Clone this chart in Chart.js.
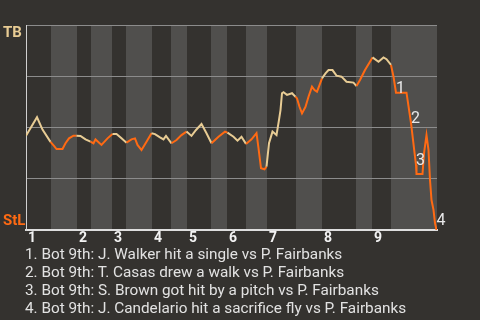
<!DOCTYPE html>
<html>
<head>
<meta charset="utf-8">
<title>Win probability</title>
<script src="https://cdn.jsdelivr.net/npm/chart.js"></script>
<style>
body{margin:0;background:#34322f;width:480px;height:320px;overflow:hidden;font-family:Roboto,sans-serif;}
#wrap{position:absolute;left:0;top:0;width:480px;height:248px;}
#events{position:absolute;left:25px;top:245px;margin:0;padding:0;list-style:none;color:#e2e2e2;font-size:15.3px;line-height:18px;white-space:nowrap;}
</style>
</head>
<body>
<div id="wrap"><canvas id="chart" width="480" height="248"></canvas></div>
<ul id="events"></ul>
<script>
// play number (x) and TB win probability in % (y)
let plays = [0,2.2,3.3,4.9,5.6,6.1,7.3,7.9,8.6,9.5,10.1,10.9,11.9,12.9,13.5,13.9,15.1,16.3,17.3,18.1,
19.1,20.1,21.1,21.8,22.3,23.1,24.1,25.1,25.8,26.8,27.5,28.0,29.1,30.1,31.1,32.1,33.1,34.0,35.1,36.1,
37.1,38.5,39.8,40.3,41.5,42.3,43.1,44.0,45.1,46.1,46.5,47.0,47.7,48.1,48.6,49.3,50.1,50.6,50.9,51.2,
51.5,52.2,53.2,53.9,54.2,54.7,55.2,55.9,56.5,57.2,57.7,58.2,58.7,59.2,59.9,60.5,61.3,62.1,63.1,64.1,
65.5,66.1,66.8,67.8,68.8,69.3,70.5,71.5,72.1,73.0,73.5,74.0,76.1,77.0,78.0,78.1,79.3,79.6,80.1,80.5,
80.8,81.1,81.5,81.8,82.1];
let tbWin = [46,55,49,43,41,39.5,39.5,42.3,44.7,46,46,45.9,44.2,43.1,42.3,44.2,41.5,44.7,46.8,46.8,
44.7,42.6,44.2,44.7,41.5,39,43.1,47.2,46.8,45.2,44.2,45.9,42.3,43.9,46.3,48,45.9,48.8,51.7,47.2,
42.3,45.5,48,47.5,45.5,43.6,45.5,42,44.2,47.2,39.9,30.1,29.6,30.9,42.3,48,46.3,53.7,58.5,66.7,
67.2,65.9,66.7,65,64.2,60.1,56.9,60.1,65,69.9,68.3,67.5,70.7,74,76.4,78,78,75.3,74.8,72.3,
71.9,70.2,73.2,78,82.1,84.2,82.1,84.2,83.3,80.5,74.8,67,67,52.2,31.7,27.3,27.3,37.4,46.3,39,
24.4,14.6,9.8,3.4,0];

// first play of each half inning (top, bottom, top, ...)
let halfStarts = [0,5,10.2,13,17.2,20,25.2,29,32.2,37,40.2,44,48.2,54,59.2,66,69.2,73];
let lastPlay = 82.2;
let innings = ["1","2","3","4","5","6","7","8","9"];
let teams = ["TB","StL"];

let eventPlays = [74.0,77.0,78.0,82.1];
let eventText = [
"1. Bot 9th: J. Walker hit a single vs P. Fairbanks",
"2. Bot 9th: T. Casas drew a walk vs P. Fairbanks",
"3. Bot 9th: S. Brown got hit by a pitch vs P. Fairbanks",
"4. Bot 9th: J. Candelario hit a sacrifice fly vs P. Fairbanks"
];

let tanColor = "#e8cc94";
let orangeColor = "#ff6a13";

function halfOf(x){
let h = 0;
for(let i = 0; i < halfStarts.length; i++){
if(x >= halfStarts[i]) h = i;
}
return h;
}

let list = document.getElementById("events");
eventText.forEach(function(t){
let li = document.createElement("li");
li.innerText = t;
list.appendChild(li);
});

const bands = {
id: "bands",
beforeDraw(chart){
let ctx = chart.ctx;
let a = chart.chartArea;
let xs = chart.scales.x;
ctx.save();
ctx.fillStyle = "#504f4d";
for(let i = 1; i < halfStarts.length; i += 2){
let x0 = xs.getPixelForValue(halfStarts[i]);
let x1 = xs.getPixelForValue(i + 1 < halfStarts.length ? halfStarts[i+1] : lastPlay);
ctx.fillRect(x0, a.top, x1 - x0, a.bottom - a.top);
}
ctx.restore();
}
};

const labels = {
id: "labels",
afterDatasetsDraw(chart){
let ctx = chart.ctx;
let a = chart.chartArea;
ctx.save();
ctx.textAlign = "left";
ctx.textBaseline = "alphabetic";
ctx.font = "bold 15px Roboto";
ctx.fillStyle = tanColor;
ctx.fillText(teams[0], 3, a.top + 12);
ctx.fillStyle = orangeColor;
ctx.fillText(teams[1], 3, a.bottom - 5);

let pts = chart.getDatasetMeta(0).data;
ctx.font = "16px Roboto";
ctx.fillStyle = "#e8e8e8";
eventPlays.forEach(function(p, i){
let idx = plays.indexOf(p);
let pt = pts[idx];
ctx.fillText(String(i + 1), pt.x, Math.min(pt.y, a.bottom - 5));
});
ctx.restore();
}
};

new Chart(document.getElementById("chart"), {
type: "line",
data: {
datasets: [{
data: plays.map(function(x, i){ return {x: x, y: tbWin[i]}; }),
borderWidth: 2,
pointRadius: 0,
tension: 0,
borderColor: tanColor,
segment: {
borderColor: function(c){
let mid = (c.p0.parsed.x + c.p1.parsed.x) / 2;
return halfOf(mid) % 2 ? orangeColor : tanColor;
}
}
}]
},
options: {
responsive: false,
animation: false,
layout: {padding: {left: 26, right: 43, top: 25, bottom: 0}},
plugins: {legend: {display: false}, tooltip: {enabled: false}},
scales: {
x: {
type: "linear",
min: 0,
max: lastPlay,
grid: {display: false, drawTicks: false},
border: {display: true, color: "#dedede", width: 2},
afterBuildTicks: function(s){
s.ticks = halfStarts.filter(function(v, i){ return i % 2 == 0; }).map(function(v){ return {value: v}; });
},
afterFit: function(s){ s.height = 18; },
ticks: {
autoSkip: false,
maxRotation: 0,
align: "start",
labelOffset: 2,
padding: 0,
color: "#f2f2f2",
font: {family: "Roboto", size: 14, weight: "bold"},
callback: function(v, i){ return innings[i]; }
}
},
y: {
min: 0,
max: 100,
ticks: {display: false, stepSize: 25},
grid: {color: "#8c8c8c", lineWidth: 1, drawTicks: false},
border: {display: true, color: "#d0d0d0", width: 1}
}
}
},
plugins: [bands, labels]
});
</script>
</body>
</html>
